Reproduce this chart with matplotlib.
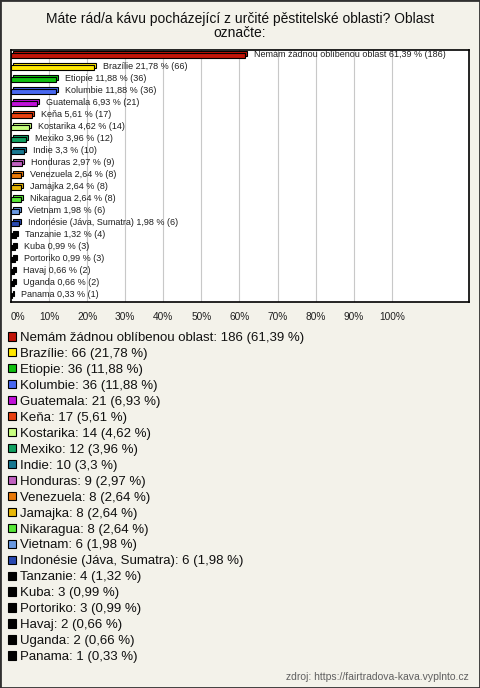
import matplotlib
matplotlib.use("Agg")
import matplotlib.pyplot as plt
from matplotlib.patches import Patch, Rectangle

plt.rcParams['font.family'] = ['Liberation Sans', 'DejaVu Sans']

categories = ["Nemám žádnou oblíbenou oblast", "Brazílie", "Etiopie", "Kolumbie", "Guatemala",
              "Keňa", "Kostarika", "Mexiko", "Indie", "Honduras", "Venezuela", "Jamajka",
              "Nikaragua", "Vietnam", "Indonésie (Jáva, Sumatra)", "Tanzanie", "Kuba",
              "Portoriko", "Havaj", "Uganda", "Panama"]
counts = [186, 66, 36, 36, 21, 17, 14, 12, 10, 9, 8, 8, 8, 6, 6, 4, 3, 3, 2, 2, 1]
percents = [61.39, 21.78, 11.88, 11.88, 6.93, 5.61, 4.62, 3.96, 3.3, 2.97, 2.64, 2.64,
            2.64, 1.98, 1.98, 1.32, 0.99, 0.99, 0.66, 0.66, 0.33]
pct_labels = ["61,39", "21,78", "11,88", "11,88", "6,93", "5,61", "4,62", "3,96", "3,3", "2,97",
              "2,64", "2,64", "2,64", "1,98", "1,98", "1,32", "0,99", "0,99", "0,66", "0,66", "0,33"]
colors = ["#C01408", "#FFE800", "#10C010", "#4868F0", "#C010D8", "#E84010", "#C8FF80",
          "#10A060", "#187890", "#C060C0", "#E87808", "#E8B808", "#58E838", "#6898E0",
          "#2848B0", "#000000", "#000000", "#000000", "#000000", "#000000", "#000000"]
tick_vals = [0, 10, 20, 30, 40, 50, 60, 70, 80, 90, 100]
title = "Máte rád/a kávu pocházející z určité pěstitelské oblasti? Oblast\noznačte:"
source = "zdroj: https://fairtradova-kava.vyplnto.cz"

bg = "#F3F2EA"
W, H = 480, 688
fig = plt.figure(figsize=(4.8, 6.88), dpi=100, facecolor=bg)
fig.patches.append(Rectangle((0, 0), 1, 1, transform=fig.transFigure, fill=False,
                             edgecolor="#303030", linewidth=2))

ax = fig.add_axes([11 / W, 1 - 302 / H, (469 - 11) / W, (302 - 50) / H])
ax.set_facecolor("white")
ys = list(range(len(categories)))
h = 0.42
dx, dy = 0.55, 0.18
# depth (back) bars
ax.barh([y - dy for y in ys], percents, left=dx, height=h, color=colors,
        edgecolor="black", linewidth=0.8, zorder=2)
# front bars
ax.barh(ys, percents, height=h, color=colors, edgecolor="black", linewidth=0.8, zorder=3)
for y, cat, p, pl, c in zip(ys, categories, percents, pct_labels, counts):
    ax.annotate(f"{cat} {pl} % ({c})", xy=(p + dx, y - dy / 2), xytext=(5, 0),
                textcoords="offset points", ha="left", va="center", fontsize=6.5,
                color="#202020", zorder=4)

ax.set_xlim(0, 120.3)
ax.set_ylim(len(categories) - 0.45, -0.5)
ax.set_yticks([])
ax.set_xticks(tick_vals)
ax.set_xticklabels([f"{v}%" for v in tick_vals], fontsize=7.3, color="#202020")
ax.get_xticklabels()[0].set_horizontalalignment("left")
ax.tick_params(axis="x", length=0, pad=7)
ax.grid(axis="x", color="#C8C8C8", linewidth=0.8, zorder=0)
ax.set_axisbelow(True)
for s in ax.spines.values():
    s.set_color("black")
    s.set_linewidth(1.2)

fig.text(0.5, 1 - 26 / H, title, ha="center", va="center", fontsize=10, color="#101010",
         linespacing=1.05)

handles = [Patch(facecolor=col, edgecolor="black", linewidth=0.8) for col in colors]
labels = [f"{cat}: {c} ({pl} %)" for cat, c, pl in zip(categories, counts, pct_labels)]
fig.legend(handles, labels, loc="upper left", bbox_to_anchor=(8 / W, 1 - 332 / H),
           frameon=False, fontsize=9.5, handlelength=0.6, handleheight=0.6,
           handletextpad=0.3, labelspacing=0.3, borderpad=0, borderaxespad=0,
           labelcolor="#101010")

fig.text(469 / W, 1 - 677 / H, source, ha="right", va="center", fontsize=7.5, color="#606060")

fig.savefig("out.png", dpi=100, facecolor=bg)
